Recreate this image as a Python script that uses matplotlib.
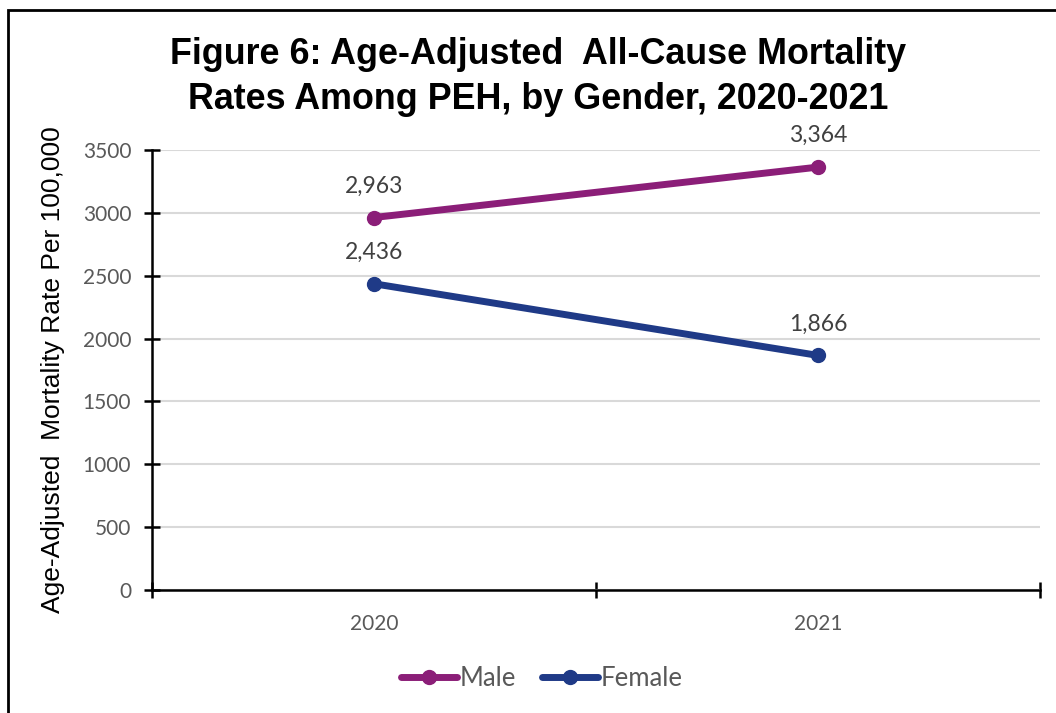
import matplotlib.pyplot as plt
from matplotlib.patches import Rectangle

years = ['2020', '2021']
male = [2963, 3364]
female = [2436, 1866]
series_names = ['Male', 'Female']
y_ticks = [0, 500, 1000, 1500, 2000, 2500, 3000, 3500]

MALE_COLOR = '#8B1E78'
FEMALE_COLOR = '#1F3A87'
GREY = '#595959'

fig = plt.figure(figsize=(10.56, 7.13), dpi=100)
ax = fig.add_axes([152 / 1056, 1 - 590 / 713, 888 / 1056, 440 / 713])

x = list(range(len(years)))
for vals, name, color in [(male, series_names[0], MALE_COLOR), (female, series_names[1], FEMALE_COLOR)]:
    ax.plot(x, vals, color=color, lw=5, marker='o', markersize=10, label=name,
            solid_capstyle='round', zorder=3)
    for xi, v in zip(x, vals):
        ax.annotate(f'{v:,}', (xi, v), xytext=(0, 15), textcoords='offset points',
                    ha='center', va='bottom', fontsize=16.5, color='#404040', family='Lato')

ax.set_xlim(-0.5, 1.5)
ax.set_ylim(0, 3500)
ax.set_yticks(y_ticks)
ax.set_yticklabels([str(t) for t in y_ticks], family='Lato', fontsize=15, color=GREY)
ax.set_xticks(x)
ax.set_xticklabels(years, family='Lato', fontsize=15, color=GREY)
ax.tick_params(axis='x', which='major', length=0, pad=17)
ax.set_xticks([-0.5, 0.5, 1.5], minor=True)
ax.tick_params(axis='x', which='minor', direction='inout', length=12, width=1.8, color='black')
ax.tick_params(axis='y', direction='inout', length=12, width=1.8, color='black', pad=9)
ax.yaxis.grid(True, color='#D9D9D9', lw=1.5)
ax.set_axisbelow(True)
for s in ['top', 'right']:
    ax.spines[s].set_visible(False)
for s in ['left', 'bottom']:
    ax.spines[s].set_linewidth(1.8)

ax.set_ylabel('Age-Adjusted  Mortality Rate Per 100,000', family='Liberation Sans',
              fontsize=19)
ax.yaxis.set_label_coords(-0.098, 0.5)

fig.text(0.51, 1 - 77 / 713, 'Figure 6: Age-Adjusted  All-Cause Mortality\nRates Among PEH, by Gender, 2020-2021',
         ha='center', va='center', family='Liberation Sans', fontweight='bold',
         fontsize=25.8, linespacing=1.4)

leg = ax.legend(loc='center', bbox_to_anchor=(0.513, 1 - 678 / 713), bbox_transform=fig.transFigure,
                ncol=2, frameon=False, handlelength=2.2, handletextpad=0.1, columnspacing=1.0,
                prop={'family': 'Lato', 'size': 18.5})
for t in leg.get_texts():
    t.set_color(GREY)

fig.patches.append(Rectangle((8 / 1056, -0.1), 1.2, 1 - 10 / 713 + 0.1, transform=fig.transFigure,
                             fill=False, edgecolor='black', lw=2, zorder=0))

fig.savefig('out.png', dpi=100)
